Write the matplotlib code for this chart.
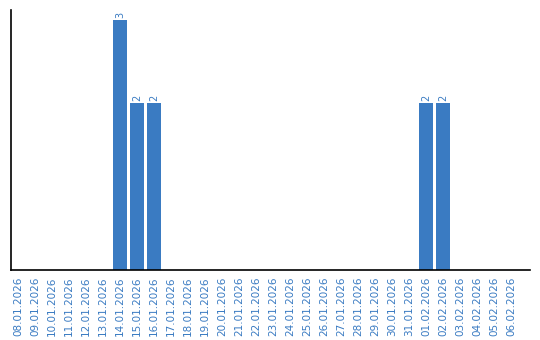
import matplotlib
matplotlib.use("Agg")
import matplotlib.pyplot as plt

dates = ["08.01.2026", "09.01.2026", "10.01.2026", "11.01.2026", "12.01.2026",
         "13.01.2026", "14.01.2026", "15.01.2026", "16.01.2026", "17.01.2026",
         "18.01.2026", "19.01.2026", "20.01.2026", "21.01.2026", "22.01.2026",
         "23.01.2026", "24.01.2026", "25.01.2026", "26.01.2026", "27.01.2026",
         "28.01.2026", "29.01.2026", "30.01.2026", "31.01.2026", "01.02.2026",
         "02.02.2026", "03.02.2026", "04.02.2026", "05.02.2026", "06.02.2026"]
counts = [0, 0, 0, 0, 0, 0, 3, 2, 2, 0, 0, 0, 0, 0, 0, 0, 0, 0, 0, 0,
          0, 0, 0, 0, 2, 2, 0, 0, 0, 0]

color = "#3a7bc2"
fig = plt.figure(figsize=(5.4, 3.4), dpi=100)
ax = fig.add_axes([11/540, 1 - 270/340, (530-11)/540, (270-10)/340])
x = list(range(len(dates)))
bars = ax.bar(x, counts, width=0.82, color=color)
for xi, v in zip(x, counts):
    if v > 0:
        ax.text(xi, v + 0.03, str(v), rotation=90, ha="center", va="bottom",
                color=color, fontsize=7)
ax.set_xlim(-0.41, 30.12)
ax.set_ylim(0, 3.12)
ax.set_xticks(x)
ax.set_xticklabels(dates, rotation=90, color=color, fontsize=7.5)
ax.tick_params(axis="x", length=0, pad=5)
ax.set_yticks([])
for s in ["top", "right"]:
    ax.spines[s].set_visible(False)
ax.spines["left"].set_linewidth(1.2)
ax.spines["bottom"].set_linewidth(1.2)
fig.savefig("out.png", dpi=100)
